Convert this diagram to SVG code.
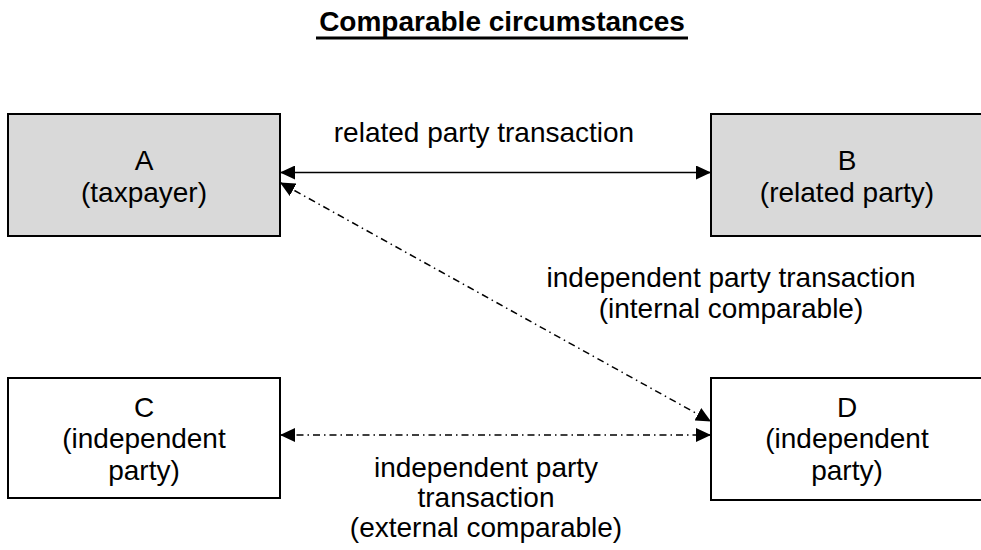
<svg xmlns="http://www.w3.org/2000/svg" width="981" height="550" viewBox="0 0 981 550">
<style>
text{font-family:"Liberation Sans",Arial,sans-serif;font-size:28px;fill:#000;text-anchor:middle}
.title{font-weight:bold}
.box{stroke:#000;stroke-width:2}
.grey{fill:#d9d9d9}
.white{fill:#fff}
.conn{stroke:#000;stroke-width:1.5;fill:none}
.dd{stroke-dasharray:7 4 1.5 4}
</style>
<defs>
<marker id="ah" viewBox="0 0 15 14" refX="15" refY="7" markerWidth="15" markerHeight="14" markerUnits="userSpaceOnUse" orient="auto-start-reverse">
<path d="M0,0 L15,7 L0,14 z" fill="#000"/>
</marker>
</defs>
<rect width="981" height="550" fill="#fff"/>
<g id="title">
<text class="title" x="502" y="31">Comparable circumstances</text>
<rect x="316" y="36.5" width="372" height="3" fill="#000"/>
</g>
<g id="nodeA">
<rect class="box grey" x="8" y="114" width="272" height="122"/>
<text x="144" y="170">A</text>
<text x="144" y="202">(taxpayer)</text>
</g>
<g id="nodeB">
<rect class="box grey" x="711" y="114" width="272" height="122"/>
<text x="847" y="170">B</text>
<text x="847" y="202">(related party)</text>
</g>
<g id="nodeC">
<rect class="box white" x="8" y="378" width="272" height="120"/>
<text x="144" y="417">C</text>
<text x="144" y="448">(independent</text>
<text x="144" y="480">party)</text>
</g>
<g id="nodeD">
<rect class="box white" x="711" y="378" width="272" height="122"/>
<text x="847" y="417">D</text>
<text x="847" y="448">(independent</text>
<text x="847" y="480">party)</text>
</g>
<g id="connectors">
<line class="conn" x1="280" y1="172.5" x2="711" y2="172.5" marker-start="url(#ah)" marker-end="url(#ah)"/>
<line class="conn dd" x1="280" y1="182.5" x2="711" y2="421.5" marker-start="url(#ah)" marker-end="url(#ah)"/>
<line class="conn dd" x1="280" y1="435" x2="711" y2="435" marker-start="url(#ah)" marker-end="url(#ah)"/>
</g>
<g id="labels">
<text x="484" y="142">related party transaction</text>
<text x="731" y="287">independent party transaction</text>
<text x="731" y="318">(internal comparable)</text>
<text x="486" y="477">independent party</text>
<text x="486" y="507">transaction</text>
<text x="486" y="537">(external comparable)</text>
</g>
</svg>
